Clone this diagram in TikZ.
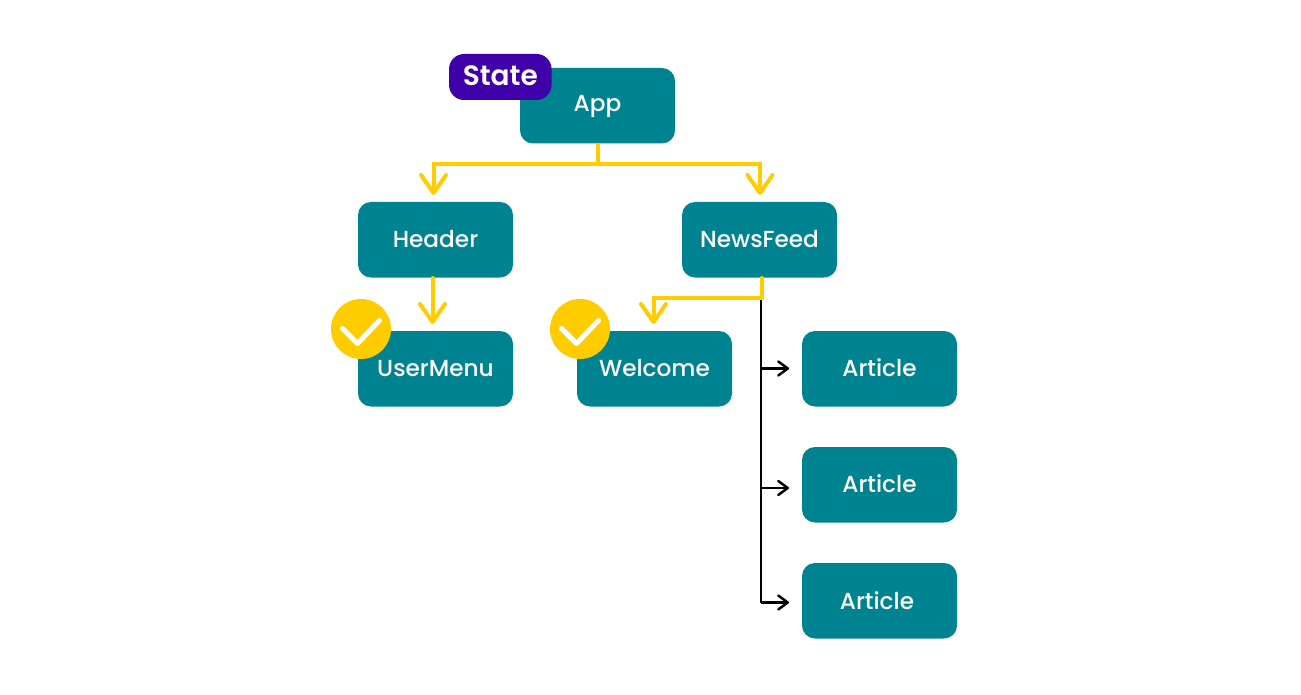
\documentclass[tikz,border=0pt]{standalone}
\usepackage{fontspec}
\setmainfont{Poppins Medium}
\newfontfamily\statefont{Poppins SemiBold}
\usetikzlibrary{arrows.meta,calc}
\definecolor{teal1}{HTML}{008391}
\definecolor{gold1}{HTML}{FFCC00}
\definecolor{violet1}{HTML}{3F00A9}
\tikzset{
  x=1pt,y=-1pt,
  box/.style={fill=teal1,rounded corners=13pt,minimum width=155pt,minimum height=75.5pt,inner sep=0pt,text=white,font=\fontsize{23.2}{26}\selectfont},
  statebox/.style={fill=violet1,rounded corners=15pt,minimum width=102.5pt,minimum height=46pt,inner sep=0pt,text=white,font=\statefont\fontsize{28}{32}\selectfont},
  badge/.style={circle,fill=gold1,minimum size=60pt,inner sep=0pt},
  goldline/.style={draw=gold1,line width=4pt},
  goldarrow/.style={goldline,line cap=round,-{Straight Barb[length=18pt,width=25pt,line width=4pt,round]}},
  blackline/.style={draw=black,line width=2.5pt},
  blackarrow/.style={blackline,-{Straight Barb[length=9.5pt,width=14pt,line width=2.5pt,round]}},
  checkmark/.style={draw=white,line width=5pt,line cap=round,line join=round},
}
\begin{document}
\begin{tikzpicture}
\useasboundingbox (0,0) rectangle (1301,695);
\fill[white] (0,0) rectangle (1301,695);
% boxes
\node[box] (app) at (597.5,105.75) {\raisebox{-6.2pt}[0pt][0pt]{App}};
\node[box] (header) at (435.5,239.75) {\raisebox{1pt}{Header}};
\node[box] (news) at (759.5,239.75) {\raisebox{1pt}{NewsFeed}};
\node[box] (user) at (435.5,368.75) {\raisebox{1pt}{UserMenu}};
\node[box] (welcome) at (654.5,368.75) {\raisebox{1pt}{Welcome}};
\node[box] (a1) at (879.5,368.75) {\raisebox{2pt}{Article}};
\node[box] (a2) at (879.5,484.75) {\raisebox{3pt}{Article}};
\node[box] (a3) at (879.5,600.75) {\hspace{-5pt}\raisebox{1pt}{Article}};
\node[statebox] (state) at (500.3,77) {\raisebox{2pt}{State}};
% free ends of connectors
\coordinate (trunk) at (597.5,164);
\coordinate (hl) at (433.5,164);
\coordinate (hr) at (760,164);
\coordinate (hend) at (433.5,195);
\coordinate (nend) at (760,195);
\coordinate (ustart) at (432.5,278);
\coordinate (uend) at (432.5,324);
\coordinate (nstart) at (761.5,278);
\coordinate (wbend) at (761.5,298);
\coordinate (wcorner) at (653.5,298);
\coordinate (wend) at (653.5,324);
\coordinate (btop) at (761.2,298);
\coordinate (b1) at (761.2,368.5);
\coordinate (b2) at (761.2,488);
\coordinate (b3) at (761.2,602.5);
\coordinate (e1) at (789,368.5);
\coordinate (e2) at (789,488);
\coordinate (e3) at (789,602.5);
% black tree
\draw[blackline] (btop) -- (b3);
\draw[blackarrow] (b1) -- (e1);
\draw[blackarrow] (b2) -- (e2);
\draw[blackarrow] (b3) -- (e3);
% gold connectors
\draw[goldline] (app.south) -- (trunk);
\draw[goldarrow] (trunk) -- (hl) -- (hend);
\draw[goldarrow] (trunk) -- (hr) -- (nend);
\draw[goldarrow] (ustart) -- (uend);
\draw[goldarrow] (nstart) -- (wbend) -- (wcorner) -- (wend);
% badges
\node[badge] (b-user) at (361,329) {};
\draw[checkmark] ($(b-user.center)+(-18.5,-0.5)$) -- ++(15,15) -- ++(22,-23);
\node[badge] (b-welcome) at (580,329) {};
\draw[checkmark] ($(b-welcome.center)+(-18.5,-0.5)$) -- ++(15,15) -- ++(22,-23);
\end{tikzpicture}
\end{document}
